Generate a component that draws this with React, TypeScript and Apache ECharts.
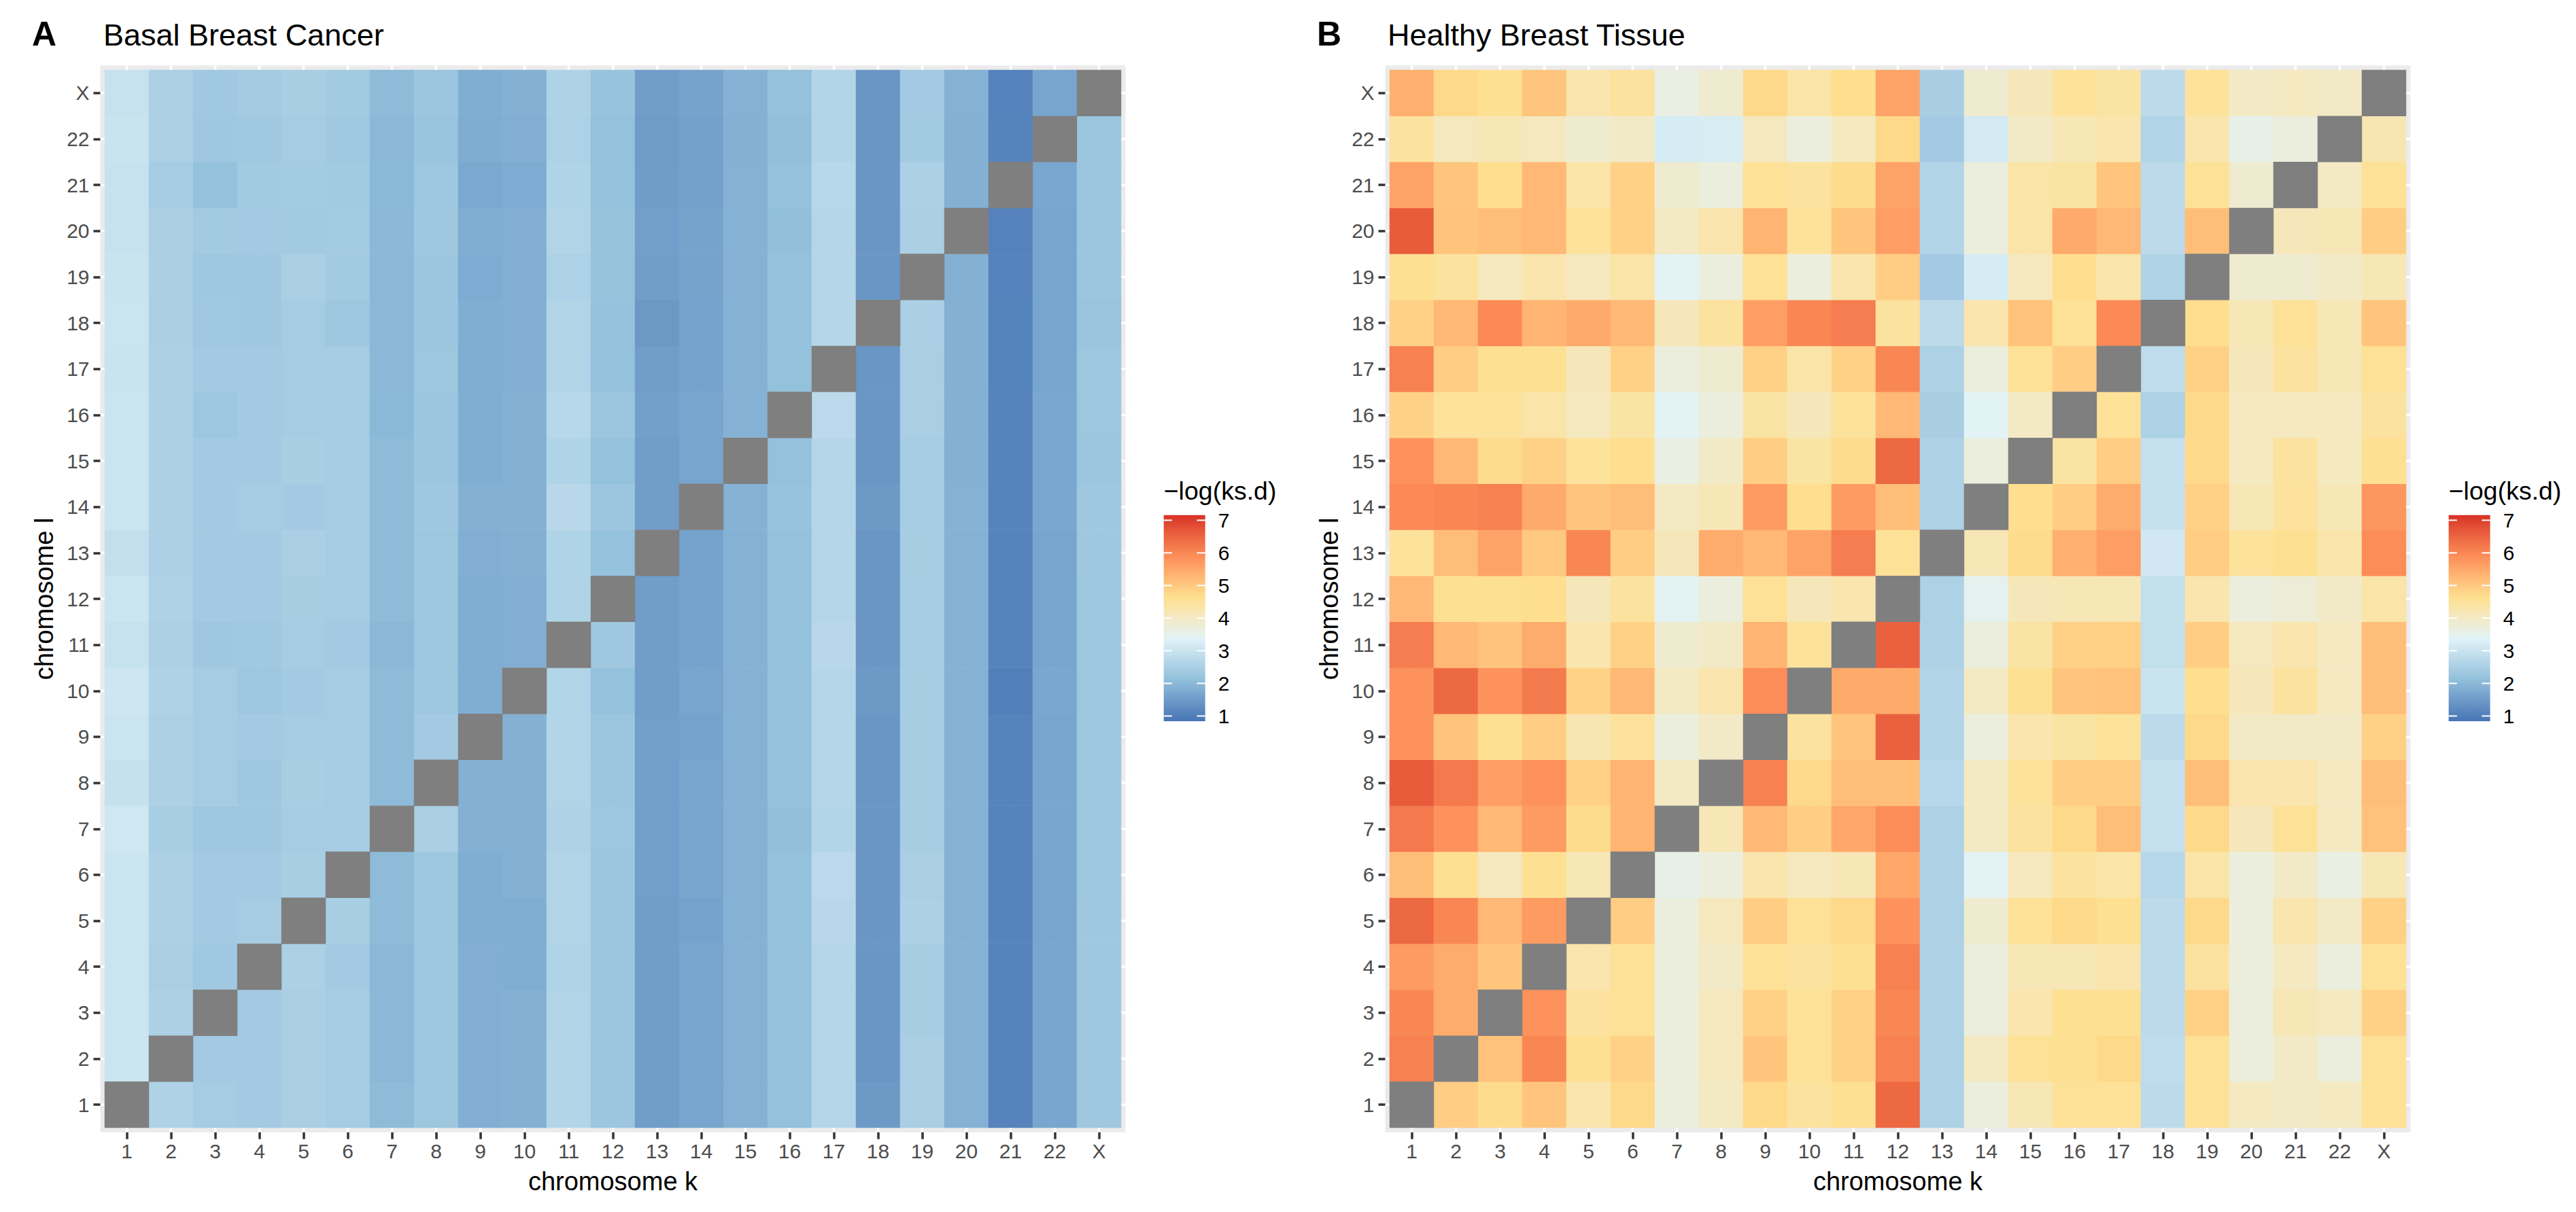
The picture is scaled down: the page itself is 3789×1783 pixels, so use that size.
import React, { useEffect, useRef } from "react";
import * as echarts from "echarts";

// ---------- data ----------
const chromosomes = ["1", "2", "3", "4", "5", "6", "7", "8", "9", "10", "11", "12", "13", "14", "15", "16", "17", "18", "19", "20", "21", "22", "X"];
const legendTicks = [1, 2, 3, 4, 5, 6, 7];
const scaleMin = 0.84;
const scaleMax = 7.16;
const paletteNodes = ["#4575B4", "#91BFDB", "#E0F3F8", "#FEE090", "#FC8D59", "#D73027"];
const naColor = "#7F7F7F";

// rows: chromosome l = 1 (bottom) ... X (top); columns: chromosome k = 1 ... 22, X ; null = diagonal
const basalRows: (number | null)[][] = [
  [null, 2.56, 2.41, 2.38, 2.5, 2.41, 2.03, 2.29, 1.82, 1.86, 2.65, 2.28, 1.53, 1.66, 1.89, 2.16, 2.67, 1.47, 2.5, 1.89, 1.09, 1.69, 2.33],
  [3.02, null, 2.38, 2.38, 2.5, 2.41, 1.99, 2.29, 1.82, 1.86, 2.65, 2.28, 1.53, 1.66, 1.89, 2.16, 2.67, 1.42, 2.5, 1.89, 1.09, 1.69, 2.33],
  [3.02, 2.53, null, 2.38, 2.5, 2.41, 1.99, 2.29, 1.82, 1.86, 2.62, 2.28, 1.53, 1.66, 1.89, 2.16, 2.67, 1.42, 2.44, 1.89, 1.09, 1.69, 2.33],
  [3.02, 2.5, 2.34, null, 2.53, 2.38, 1.99, 2.29, 1.82, 1.8, 2.6, 2.28, 1.53, 1.67, 1.89, 2.16, 2.67, 1.42, 2.44, 1.89, 1.09, 1.69, 2.33],
  [3.02, 2.53, 2.38, 2.41, null, 2.46, 2.03, 2.29, 1.8, 1.8, 2.62, 2.28, 1.53, 1.62, 1.89, 2.15, 2.72, 1.42, 2.53, 1.89, 1.09, 1.67, 2.33],
  [3.02, 2.53, 2.38, 2.38, 2.46, null, 2.03, 2.29, 1.8, 1.86, 2.62, 2.28, 1.54, 1.66, 1.89, 2.16, 2.76, 1.42, 2.5, 1.89, 1.09, 1.67, 2.29],
  [3.08, 2.46, 2.32, 2.33, 2.42, 2.42, null, 2.5, 1.85, 1.85, 2.57, 2.29, 1.54, 1.66, 1.89, 2.12, 2.65, 1.42, 2.44, 1.89, 1.09, 1.69, 2.29],
  [2.94, 2.53, 2.41, 2.32, 2.46, 2.41, 2.03, null, 1.85, 1.85, 2.62, 2.28, 1.54, 1.66, 1.89, 2.16, 2.67, 1.42, 2.44, 1.89, 1.09, 1.69, 2.29],
  [3.02, 2.53, 2.41, 2.38, 2.41, 2.41, 2.03, 2.38, null, 1.86, 2.65, 2.28, 1.54, 1.62, 1.89, 2.16, 2.67, 1.42, 2.44, 1.89, 1.09, 1.67, 2.29],
  [3.06, 2.56, 2.41, 2.29, 2.38, 2.41, 2.03, 2.29, 1.8, null, 2.62, 2.16, 1.53, 1.67, 1.89, 2.16, 2.67, 1.47, 2.44, 1.89, 1.03, 1.7, 2.29],
  [2.97, 2.53, 2.33, 2.34, 2.41, 2.38, 1.99, 2.29, 1.8, 1.82, null, 2.33, 1.53, 1.62, 1.89, 2.16, 2.72, 1.42, 2.42, 1.89, 1.09, 1.67, 2.29],
  [3.02, 2.56, 2.38, 2.38, 2.44, 2.41, 2.03, 2.29, 1.8, 1.82, 2.6, null, 1.53, 1.62, 1.89, 2.16, 2.67, 1.42, 2.42, 1.89, 1.09, 1.67, 2.29],
  [2.89, 2.53, 2.38, 2.38, 2.5, 2.41, 2.03, 2.29, 1.81, 1.86, 2.6, 2.16, null, 1.62, 1.89, 2.16, 2.67, 1.42, 2.44, 1.89, 1.09, 1.67, 2.33],
  [3.02, 2.53, 2.38, 2.42, 2.38, 2.41, 2.03, 2.33, 1.86, 1.86, 2.72, 2.28, 1.53, null, 1.89, 2.21, 2.67, 1.47, 2.42, 1.89, 1.09, 1.7, 2.33],
  [3.02, 2.53, 2.38, 2.38, 2.46, 2.41, 2.03, 2.28, 1.8, 1.86, 2.6, 2.16, 1.53, 1.67, null, 2.15, 2.67, 1.42, 2.41, 1.86, 1.09, 1.7, 2.28],
  [3.02, 2.53, 2.29, 2.38, 2.42, 2.41, 1.98, 2.28, 1.8, 1.85, 2.71, 2.28, 1.58, 1.66, 1.89, null, 2.76, 1.42, 2.5, 1.86, 1.09, 1.7, 2.29],
  [2.99, 2.53, 2.38, 2.38, 2.42, 2.41, 1.99, 2.29, 1.8, 1.82, 2.62, 2.16, 1.53, 1.62, 1.89, 2.15, null, 1.42, 2.5, 1.86, 1.07, 1.67, 2.29],
  [3.02, 2.51, 2.34, 2.32, 2.41, 2.29, 1.99, 2.28, 1.8, 1.82, 2.62, 2.19, 1.44, 1.62, 1.89, 2.16, 2.67, null, 2.51, 1.86, 1.07, 1.67, 2.24],
  [2.99, 2.51, 2.3, 2.33, 2.5, 2.37, 1.99, 2.28, 1.77, 1.82, 2.55, 2.2, 1.53, 1.64, 1.89, 2.15, 2.67, 1.42, null, 1.86, 1.08, 1.67, 2.28],
  [2.97, 2.51, 2.37, 2.38, 2.37, 2.39, 1.99, 2.32, 1.8, 1.82, 2.62, 2.2, 1.54, 1.63, 1.87, 2.12, 2.67, 1.42, 2.51, null, 1.08, 1.67, 2.28],
  [2.97, 2.42, 2.16, 2.37, 2.39, 2.37, 1.98, 2.29, 1.72, 1.77, 2.6, 2.16, 1.52, 1.6, 1.87, 2.16, 2.71, 1.42, 2.53, 1.86, null, 1.7, 2.28],
  [2.99, 2.53, 2.33, 2.34, 2.41, 2.34, 1.99, 2.23, 1.78, 1.82, 2.55, 2.16, 1.5, 1.6, 1.86, 2.12, 2.65, 1.42, 2.37, 1.85, 1.09, null, 2.28],
  [2.97, 2.53, 2.34, 2.4, 2.46, 2.37, 2.03, 2.28, 1.8, 1.86, 2.56, 2.21, 1.53, 1.64, 1.89, 2.15, 2.65, 1.42, 2.38, 1.87, 1.08, 1.67, null],
];

const healthyRows: (number | null)[][] = [
  [null, 4.93, 4.7, 5.05, 4.28, 4.75, 3.7, 4.02, 4.75, 4.45, 4.6, 6.45, 2.54, 3.7, 4.18, 4.55, 4.55, 2.78, 4.55, 4.05, 3.97, 4.05, 4.55],
  [6.08, null, 5.1, 6.0, 4.6, 4.87, 3.7, 4.08, 5.05, 4.55, 4.87, 6.08, 2.54, 4.02, 4.55, 4.6, 4.75, 2.82, 4.55, 3.7, 3.97, 3.7, 4.55],
  [6.0, 5.44, null, 5.83, 4.45, 4.55, 3.7, 4.08, 4.87, 4.55, 4.87, 6.0, 2.54, 3.7, 4.28, 4.6, 4.6, 2.78, 4.87, 3.7, 4.18, 4.05, 4.87],
  [5.7, 5.44, 5.05, null, 4.28, 4.55, 3.7, 3.97, 4.55, 4.45, 4.6, 6.08, 2.54, 3.7, 4.18, 4.18, 4.28, 2.78, 4.45, 3.7, 4.05, 3.7, 4.55],
  [6.45, 6.0, 5.25, 5.7, null, 4.93, 3.7, 4.08, 4.93, 4.55, 4.75, 5.83, 2.54, 3.85, 4.55, 4.75, 4.6, 2.78, 4.75, 3.7, 4.28, 3.97, 4.87],
  [5.17, 4.6, 4.08, 4.6, 4.18, null, 3.55, 3.7, 4.28, 4.08, 4.18, 5.52, 2.54, 3.44, 4.08, 4.45, 4.35, 2.68, 4.35, 3.7, 3.97, 3.62, 4.18],
  [6.2, 5.83, 5.25, 5.7, 4.7, 5.32, null, 4.18, 5.25, 4.93, 5.52, 5.9, 2.54, 4.02, 4.45, 4.75, 5.17, 2.93, 4.75, 4.12, 4.55, 4.05, 5.1],
  [6.62, 6.2, 5.65, 5.83, 4.87, 5.32, 4.02, null, 6.08, 4.75, 5.17, 5.17, 2.68, 4.02, 4.5, 4.93, 4.93, 2.93, 5.17, 4.28, 4.28, 4.05, 5.17],
  [5.83, 5.07, 4.6, 4.93, 4.22, 4.48, 3.7, 3.97, null, 4.45, 5.05, 6.55, 2.62, 3.7, 4.28, 4.4, 4.5, 2.78, 4.75, 3.97, 3.97, 3.97, 4.87],
  [5.83, 6.45, 5.83, 6.18, 4.85, 5.25, 4.02, 4.28, 5.9, null, 5.47, 5.47, 2.62, 4.02, 4.6, 5.05, 5.1, 3.0, 4.65, 4.12, 4.45, 4.05, 5.17],
  [6.15, 5.25, 5.07, 5.44, 4.28, 4.87, 3.85, 3.97, 5.32, 4.5, null, 6.55, 2.54, 3.7, 4.4, 4.87, 4.9, 2.88, 4.93, 4.08, 4.28, 4.05, 5.17],
  [5.25, 4.6, 4.6, 4.65, 4.12, 4.45, 3.44, 3.7, 4.55, 4.12, 4.28, null, 2.54, 3.48, 4.12, 4.18, 4.18, 2.88, 4.28, 3.7, 3.78, 3.97, 4.35],
  [4.5, 5.17, 5.57, 4.99, 6.0, 4.93, 4.12, 5.44, 5.25, 5.57, 6.15, 4.55, null, 4.18, 4.7, 5.38, 5.65, 3.12, 4.93, 4.5, 4.6, 4.3, 5.9],
  [5.95, 6.0, 6.08, 5.47, 5.05, 5.17, 4.02, 4.18, 5.7, 4.65, 5.7, 5.17, 2.54, null, 4.65, 4.93, 5.44, 2.93, 4.87, 4.18, 4.48, 4.18, 5.75],
  [5.83, 5.25, 4.7, 4.87, 4.5, 4.65, 3.62, 3.97, 4.93, 4.4, 4.7, 6.45, 2.54, 3.7, null, 4.4, 4.93, 2.93, 4.75, 4.05, 4.45, 4.05, 4.6],
  [4.87, 4.5, 4.5, 4.35, 4.08, 4.4, 3.44, 3.7, 4.4, 4.12, 4.5, 5.25, 2.47, 3.4, 4.02, null, 4.55, 2.54, 4.75, 4.05, 4.05, 4.05, 4.45],
  [6.08, 4.93, 4.6, 4.6, 4.12, 4.87, 3.7, 3.85, 4.87, 4.35, 4.87, 6.0, 2.54, 3.7, 4.55, 4.93, null, 2.82, 4.87, 4.12, 4.45, 4.18, 4.55],
  [4.87, 5.25, 5.95, 5.32, 5.47, 5.25, 4.12, 4.45, 5.65, 6.0, 6.15, 4.45, 2.78, 4.28, 5.1, 4.55, 5.95, null, 4.65, 4.18, 4.55, 4.18, 5.05],
  [4.6, 4.45, 4.08, 4.28, 4.07, 4.35, 3.42, 3.7, 4.55, 3.7, 4.28, 4.93, 2.38, 3.2, 4.08, 4.65, 4.3, 2.6, null, 3.85, 3.85, 3.97, 4.18],
  [6.62, 5.07, 5.17, 5.25, 4.5, 4.87, 4.02, 4.28, 5.32, 4.5, 5.05, 5.65, 2.62, 3.7, 4.35, 5.47, 5.25, 2.78, 5.17, null, 4.12, 4.18, 4.93],
  [5.57, 5.05, 4.65, 5.25, 4.35, 4.87, 3.85, 3.7, 4.55, 4.45, 4.7, 5.57, 2.62, 3.7, 4.35, 4.4, 5.05, 2.78, 4.55, 3.85, null, 4.02, 4.55],
  [4.45, 4.08, 4.18, 4.08, 3.85, 3.97, 3.2, 3.22, 4.08, 3.7, 4.05, 4.75, 2.38, 3.15, 3.97, 4.18, 4.28, 2.62, 4.28, 3.55, 3.7, null, 4.22],
  [5.38, 4.75, 4.6, 5.05, 4.28, 4.45, 3.62, 3.85, 4.75, 4.35, 4.65, 5.57, 2.47, 3.85, 4.12, 4.5, 4.4, 2.78, 4.5, 4.0, 4.05, 3.97, null],
];

// ---------- colour ramp (CIELAB interpolation like ggplot) ----------
function hexToLab(hex: string): number[] {
  const c = [1, 3, 5].map((i) => parseInt(hex.slice(i, i + 2), 16) / 255);
  const lin = c.map((v) => (v <= 0.04045 ? v / 12.92 : Math.pow((v + 0.055) / 1.055, 2.4)));
  const X = (0.4124 * lin[0] + 0.3576 * lin[1] + 0.1805 * lin[2]) / 0.95047;
  const Y = 0.2126 * lin[0] + 0.7152 * lin[1] + 0.0722 * lin[2];
  const Z = (0.0193 * lin[0] + 0.1192 * lin[1] + 0.9505 * lin[2]) / 1.08883;
  const d = 6 / 29;
  const f = (t: number) => (t > d * d * d ? Math.cbrt(t) : t / (3 * d * d) + 4 / 29);
  return [116 * f(Y) - 16, 500 * (f(X) - f(Y)), 200 * (f(Y) - f(Z))];
}
function labToHex(L: number, a: number, b: number): string {
  const d = 6 / 29;
  const fy = (L + 16) / 116;
  const fx = fy + a / 500;
  const fz = fy - b / 200;
  const fi = (t: number) => (t > d ? t * t * t : 3 * d * d * (t - 4 / 29));
  const X = fi(fx) * 0.95047, Y = fi(fy), Z = fi(fz) * 1.08883;
  const r = 3.2406 * X - 1.5372 * Y - 0.4986 * Z;
  const g = -0.9689 * X + 1.8758 * Y + 0.0415 * Z;
  const bb = 0.0557 * X - 0.204 * Y + 1.057 * Z;
  const enc = (v: number) => {
    const s = v <= 0.0031308 ? 12.92 * v : 1.055 * Math.pow(v, 1 / 2.4) - 0.055;
    const n = Math.round(Math.max(0, Math.min(1, s)) * 255);
    return n.toString(16).padStart(2, "0");
  };
  return "#" + enc(r) + enc(g) + enc(bb);
}
function labRamp(nodes: string[], n: number): string[] {
  const labs = nodes.map(hexToLab);
  const out: string[] = [];
  for (let i = 0; i < n; i++) {
    const p = (i / (n - 1)) * (labs.length - 1);
    const k = Math.min(Math.floor(p), labs.length - 2);
    const t = p - k;
    const A = labs[k], B = labs[k + 1];
    out.push(labToHex(A[0] + (B[0] - A[0]) * t, A[1] + (B[1] - A[1]) * t, A[2] + (B[2] - A[2]) * t));
  }
  return out;
}

// ---------- layout ----------
const FONT = '"Liberation Sans", Arial, Helvetica, sans-serif';
const PW = 1495;
const PH = 1556;
const TOP = 103;
const panels = [
  { tag: "A", title: "Basal Breast Cancer", left: 154, tagX: 47, titleX: 152, rows: basalRows },
  { tag: "B", title: "Healthy Breast Tissue", left: 2044, tagX: 1937, titleX: 2041, rows: healthyRows },
];
const LEG_GAP = 62.7;
const LEG_W = 61;
const LEG_TOP = 757.7;
const LEG_BOTTOM = 1061;

export default function App() {
  const ref = useRef<HTMLDivElement>(null);
  useEffect(() => {
    document.body.style.margin = "0";
    if (!ref.current) return;
    const chart = echarts.init(ref.current, undefined, { renderer: "svg" });
    const ramp = labRamp(paletteNodes, 76);
    const cw = PW / chromosomes.length;
    const ch = PH / chromosomes.length;
    const padX = cw * 0.1;
    const padY = ch * 0.1;

    const grids: any[] = [];
    const xAxes: any[] = [];
    const yAxes: any[] = [];
    const series: any[] = [];
    const graphics: any[] = [];

    panels.forEach((p, i) => {
      grids.push({ left: p.left, top: TOP, width: PW, height: PH, containLabel: false, outerBoundsMode: "none" });
      const tick = { show: true, alignWithLabel: true, length: 10, lineStyle: { color: "#333333", width: 3.5 } };
      xAxes.push({
        type: "category", gridIndex: i, data: chromosomes, position: "bottom", offset: padY,
        axisLine: { show: false }, axisTick: tick, splitLine: { show: false },
        axisLabel: { color: "#4D4D4D", fontSize: 30, fontFamily: FONT, margin: 13, interval: 0 },
        name: "chromosome k", nameLocation: "middle", nameGap: 72,
        nameTextStyle: { fontSize: 38, color: "#000000", fontFamily: FONT, verticalAlign: "middle", align: "center" },
      });
      yAxes.push({
        type: "category", gridIndex: i, data: chromosomes, position: "left", offset: padX,
        axisLine: { show: false }, axisTick: tick, splitLine: { show: false },
        axisLabel: { color: "#4D4D4D", fontSize: 30, fontFamily: FONT, margin: 16, interval: 0 },
        name: "chromosome l", nameLocation: "middle", nameGap: 82.5, nameRotate: 90,
        nameTextStyle: { fontSize: 38, color: "#000000", fontFamily: FONT, verticalAlign: "middle", align: "center" },
      });
      const vals: any[] = [];
      const diag: any[] = [];
      p.rows.forEach((row, yi) =>
        row.forEach((v, xi) => {
          if (v == null) diag.push([xi, yi, 0]);
          else vals.push([xi, yi, v]);
        })
      );
      series.push({ type: "heatmap", xAxisIndex: i, yAxisIndex: i, data: vals, itemStyle: { borderWidth: 0 }, emphasis: { disabled: true }, z: 2 });
      series.push({ type: "heatmap", xAxisIndex: i, yAxisIndex: i, data: diag, itemStyle: { borderWidth: 0 }, emphasis: { disabled: true }, z: 2 });

      // panel background + white grid lines (only visible in margins)
      graphics.push({ type: "rect", z: 0, z2: 0, shape: { x: p.left - padX, y: TOP - padY, width: PW + 2 * padX, height: PH + 2 * padY }, style: { fill: "#EBEBEB" }, silent: true });
      chromosomes.forEach((_, k) => {
        const x = p.left + (k + 0.5) * cw;
        const y = TOP + (k + 0.5) * ch;
        graphics.push({ type: "line", z: 0, z2: 1, shape: { x1: x, y1: TOP - padY, x2: x, y2: TOP + PH + padY }, style: { stroke: "#FFFFFF", lineWidth: 3.5 }, silent: true });
        graphics.push({ type: "line", z: 0, z2: 1, shape: { x1: p.left - padX, y1: y, x2: p.left + PW + padX, y2: y }, style: { stroke: "#FFFFFF", lineWidth: 3.5 }, silent: true });
      });

      // tag + title
      graphics.push({ type: "text", z: 5, x: p.tagX, y: 49.5, style: { text: p.tag, fontSize: 50, fontWeight: "bold", fontFamily: FONT, fill: "#000000", align: "left", verticalAlign: "middle" } });
      graphics.push({ type: "text", z: 5, x: p.titleX, y: 51, style: { text: p.title, fontSize: 45, fontFamily: FONT, fill: "#000000", align: "left", verticalAlign: "middle" } });

      // colour bar legend
      const lx = p.left + PW + LEG_GAP;
      const lh = LEG_BOTTOM - LEG_TOP;
      graphics.push({ type: "text", z: 5, x: lx, y: 722, style: { text: "\u2212log(ks.d)", fontSize: 37.5, fontFamily: FONT, fill: "#000000", align: "left", verticalAlign: "middle" } });
      graphics.push({
        type: "rect", z: 5, shape: { x: lx, y: LEG_TOP, width: LEG_W, height: lh },
        style: { fill: { type: "linear", x: 0, y: 1, x2: 0, y2: 0, colorStops: ramp.map((c, j) => ({ offset: j / (ramp.length - 1), color: c })) } },
        silent: true,
      });
      legendTicks.forEach((t) => {
        const y = LEG_BOTTOM - ((t - scaleMin) / (scaleMax - scaleMin)) * lh;
        const tl = LEG_W / 5;
        graphics.push({ type: "line", z: 6, shape: { x1: lx, y1: y, x2: lx + tl, y2: y }, style: { stroke: "#FFFFFF", lineWidth: 2 }, silent: true });
        graphics.push({ type: "line", z: 6, shape: { x1: lx + LEG_W - tl, y1: y, x2: lx + LEG_W, y2: y }, style: { stroke: "#FFFFFF", lineWidth: 2 }, silent: true });
        graphics.push({ type: "text", z: 6, x: lx + LEG_W + 19, y, style: { text: String(t), fontSize: 30, fontFamily: FONT, fill: "#000000", align: "left", verticalAlign: "middle" } });
      });
    });

    chart.setOption({
      animation: false,
      backgroundColor: "#FFFFFF",
      textStyle: { fontFamily: FONT },
      grid: grids,
      xAxis: xAxes,
      yAxis: yAxes,
      visualMap: [
        { type: "continuous", show: false, min: scaleMin, max: scaleMax, seriesIndex: [0, 2], inRange: { color: ramp } },
        { type: "continuous", show: false, min: 0, max: 1, seriesIndex: [1, 3], inRange: { color: [naColor, naColor] } },
      ],
      series,
      graphic: { elements: graphics },
    });
    return () => chart.dispose();
  }, []);
  return <div ref={ref} style={{ width: 3789, height: 1783 }} />;
}
